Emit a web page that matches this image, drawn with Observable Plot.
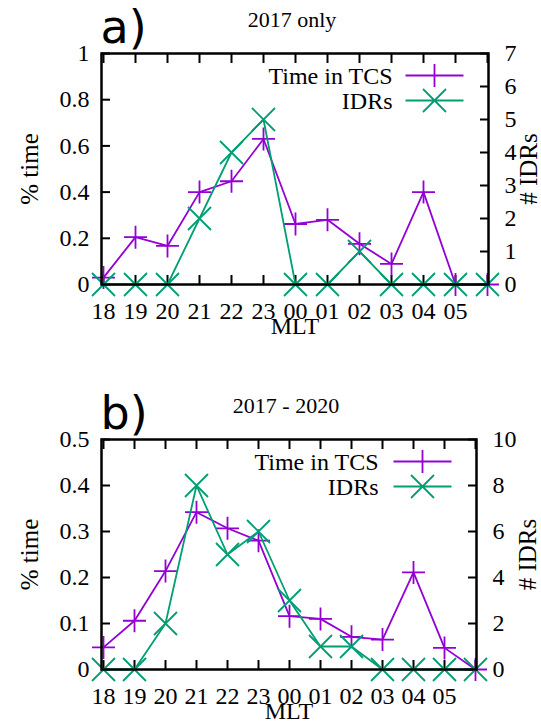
<!DOCTYPE html>
<html>
<head>
<meta charset="utf-8">
<script src="https://cdn.jsdelivr.net/npm/d3@7"></script>
<script src="https://cdn.jsdelivr.net/npm/@observablehq/plot@0.6"></script>
<style>
  html, body { margin: 0; padding: 0; background: #fff; }
  #chart svg { display: block; }
  #chart svg text { font-family: "Liberation Serif", "Times New Roman", Times, serif; }
  #chart svg text.panel-letter { font-family: "DejaVu Sans", sans-serif; }
</style>
</head>
<body>
<div id="chart"></div>
<script>
// Magnetic local time bins (last bin closes the range and carries no label)
const hours = ["18", "19", "20", "21", "22", "23", "00", "01", "02", "03", "04", "05", "06"];
const hourLabels = ["18", "19", "20", "21", "22", "23", "00", "01", "02", "03", "04", "05", ""];

// 2017 only
const tcs2017 = [0.03, 0.205, 0.167, 0.40, 0.447, 0.63, 0.262, 0.28, 0.176, 0.089, 0.40, 0.0, 0.0];
const idr2017 = [0, 0, 0, 2, 4, 5, 0, 0, 1, 0, 0, 0, 0];

// 2017 - 2020
const tcsAll = [0.048, 0.106, 0.214, 0.342, 0.307, 0.28, 0.116, 0.11, 0.071, 0.065, 0.211, 0.047, 0.0];
const idrAll = [0, 0, 2, 8, 5, 6, 3, 1, 1, 0, 0, 0, 0];

const timeTicksA = [0, 0.2, 0.4, 0.6, 0.8, 1];
const idrTicksA = [0, 1, 2, 3, 4, 5, 6, 7];
const timeTicksB = [0, 0.1, 0.2, 0.3, 0.4, 0.5];
const idrTicksB = [0, 2, 4, 6, 8, 10];

const purple = "#9400d3";
const green = "#009e73";

// Stroke-only markers with a fixed pixel size
const H = 11.5;
const drawPlus = (c) => { c.moveTo(-H, 0); c.lineTo(H, 0); c.moveTo(0, -H); c.lineTo(0, H); };
const drawTimes = (c) => { c.moveTo(-H, -H); c.lineTo(H, H); c.moveTo(-H, H); c.lineTo(H, -H); };
const plusSymbol = { draw: drawPlus };
const timesSymbol = { draw: drawTimes };
// Key sample: a short line segment with the marker in its middle
const keySymbol = (marker) => ({ draw(c) { c.moveTo(-29, 0); c.lineTo(29, 0); marker(c); } });

function panel({ letter, title, tcs, idr, yMax, yTicks, idrMax, idrTicks, height, marginTop, marginBottom, marginRight, rightLabelDx, keyTextDx }) {
  const k = yMax / idrMax; // converts IDR counts into left-axis units
  const rows = hours.map((h, i) => ({ hour: h, tcs: tcs[i], idr: idr[i] }));
  const idrTickPos = idrTicks.map((n) => n * k);
  const fmtLeft = (d) => d === 0 ? "0" : String(+d.toFixed(1));
  const txt = { fontSize: 24, fill: "#000" };
  const svg = Plot.plot({
    width: 541,
    height,
    marginTop,
    marginBottom,
    marginLeft: 101,
    marginRight,
    style: { background: "#fff", color: "#000", overflow: "visible" },
    x: { type: "point", domain: hours, padding: 0, label: null },
    y: { domain: [0, yMax], label: null },
    marks: [
      // inward tick marks
      Plot.axisX({ anchor: "bottom", label: null, tickSize: -9, strokeWidth: 2, tickFormat: () => "" }),
      Plot.axisX({ anchor: "top", label: null, tickSize: -9, strokeWidth: 2, tickFormat: () => "" }),
      Plot.axisY({ anchor: "left", label: null, ticks: yTicks, tickSize: -9, strokeWidth: 2, tickFormat: () => "" }),
      Plot.axisY({ anchor: "right", label: null, ticks: idrTickPos, tickSize: -9, strokeWidth: 2, tickFormat: () => "" }),
      // tick labels
      Plot.axisX({ anchor: "bottom", label: null, tickSize: 0, tickPadding: 0, ...txt,
        lineAnchor: "bottom", dy: 34, tickFormat: (d) => hourLabels[hours.indexOf(d)] }),
      Plot.axisY({ anchor: "left", label: null, ticks: yTicks, tickSize: 0, tickPadding: 12, ...txt, tickFormat: fmtLeft }),
      Plot.axisY({ anchor: "right", label: null, ticks: idrTickPos, tickSize: 0, tickPadding: 16, ...txt,
        tickFormat: (d) => String(Math.round(d / k)) }),
      // axis titles
      Plot.text(["MLT"], { frameAnchor: "bottom", textAnchor: "middle", lineAnchor: "bottom", dy: 49, ...txt }),
      Plot.text(["% time"], { frameAnchor: "left", textAnchor: "middle", rotate: -90, lineAnchor: "bottom", dx: -64, ...txt, fontSize: 25 }),
      Plot.text(["# IDRs"], { frameAnchor: "right", textAnchor: "middle", rotate: -90, lineAnchor: "bottom", dx: rightLabelDx, ...txt, fontSize: 25 }),
      // panel title and letter
      Plot.text([title], { frameAnchor: "top", textAnchor: "middle", lineAnchor: "bottom", dx: -3, dy: -27, ...txt, fontSize: 22 }),
      Plot.text([letter], { frameAnchor: "top-left", textAnchor: "start", lineAnchor: "bottom", dx: -1, dy: -11,
        fontSize: 46, fill: "#000" }),
      // series
      Plot.line(rows, { x: "hour", y: "tcs", stroke: purple, strokeWidth: 1.8 }),
      Plot.dot(rows, { x: "hour", y: "tcs", symbol: plusSymbol, stroke: purple, fill: "none", strokeWidth: 1.8 }),
      Plot.line(rows, { x: "hour", y: (d) => d.idr * k, stroke: green, strokeWidth: 1.8 }),
      Plot.dot(rows, { x: "hour", y: (d) => d.idr * k, symbol: timesSymbol, stroke: green, fill: "none", strokeWidth: 1.8 }),
      // key
      Plot.text(["Time in TCS"], { frameAnchor: "top-right", textAnchor: "end", lineAnchor: "bottom", dx: keyTextDx, dy: 30, ...txt }),
      Plot.text(["IDRs"], { frameAnchor: "top-right", textAnchor: "end", lineAnchor: "bottom", dx: keyTextDx, dy: 55, ...txt }),
      Plot.dot([0], { frameAnchor: "top-right", dx: -54, dy: 22, symbol: keySymbol(drawPlus), stroke: purple, fill: "none", strokeWidth: 1.8 }),
      Plot.dot([0], { frameAnchor: "top-right", dx: -54, dy: 47, symbol: keySymbol(drawTimes), stroke: green, fill: "none", strokeWidth: 1.8 }),
      Plot.frame({ stroke: "#000", strokeWidth: 2.5 })
    ]
  });
  // the panel letter uses a sans face
  d3.select(svg).selectAll("text").filter(function () { return this.textContent === letter; }).classed("panel-letter", true);
  return svg;
}

const chart = document.getElementById("chart");
chart.append(panel({
  letter: "a)", title: "2017 only", tcs: tcs2017, idr: idr2017,
  yMax: 1, yTicks: timeTicksA, idrMax: 7, idrTicks: idrTicksA,
  height: 361, marginTop: 53, marginBottom: 77, marginRight: 53, rightLabelDx: 48, keyTextDx: -96
}));
chart.append(panel({
  letter: "b)", title: "2017 - 2020", tcs: tcsAll, idr: idrAll,
  yMax: 0.5, yTicks: timeTicksB, idrMax: 10, idrTicks: idrTicksB,
  height: 362, marginTop: 78, marginBottom: 54, marginRight: 65, rightLabelDx: 59, keyTextDx: -98
}));
</script>
</body>
</html>
